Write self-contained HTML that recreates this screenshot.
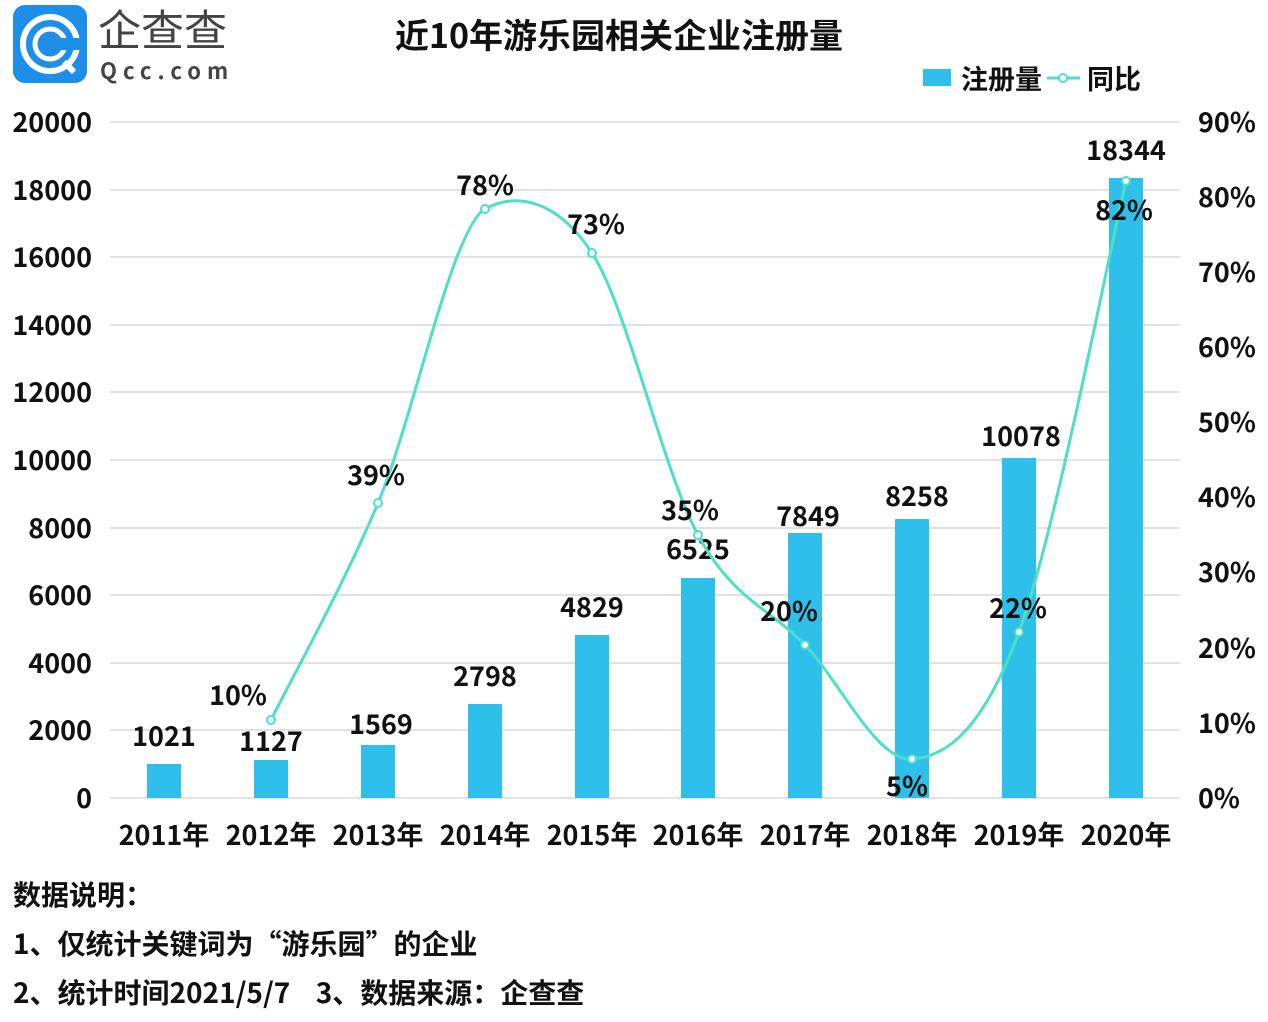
<!DOCTYPE html>
<html><head><meta charset="utf-8"><style>
body{margin:0;background:#fff;}
svg text{font-family:"Noto Sans CJK SC","Liberation Sans",sans-serif;font-weight:bold;fill:#111;white-space:pre;}
</style></head><body>
<svg width="1268" height="1017" viewBox="0 0 1268 1017" xmlns="http://www.w3.org/2000/svg">
<!-- logo -->
<rect x="13" y="5" width="74" height="78" rx="12" fill="#1e8fe8"/>
<circle cx="50" cy="44" r="27" fill="none" stroke="#fff" stroke-width="6"/>
<circle cx="50" cy="44" r="15" fill="none" stroke="#fff" stroke-width="5"/>
<rect x="54" y="38" width="30" height="12" fill="#1e8fe8"/>
<line x1="64" y1="62" x2="74" y2="72" stroke="#fff" stroke-width="6"/>
<text x="98" y="46" font-size="43" style="font-weight:normal;fill:#444">企查查</text>
<text x="100" y="79" font-size="22" letter-spacing="6" style="fill:#444">Qcc.com</text>
<text x="619" y="48" font-size="34" text-anchor="middle">近10年游乐园相关企业注册量</text>
<!-- legend -->
<rect x="923" y="69" width="28" height="17" fill="#2ec0ea"/>
<text x="961" y="89" font-size="27">注册量</text>
<line x1="1047" y1="78" x2="1080" y2="78" stroke="#4de0c4" stroke-width="3"/>
<circle cx="1063" cy="78" r="4" fill="#fff" stroke="#4de0c4" stroke-width="2"/>
<text x="1087" y="89" font-size="27">同比</text>
<!-- grid -->
<g stroke="#d9d9d9" stroke-width="1.5">
<line x1="110" y1="122" x2="1180" y2="122"/><line x1="110" y1="190" x2="1180" y2="190"/>
<line x1="110" y1="257" x2="1180" y2="257"/><line x1="110" y1="325" x2="1180" y2="325"/>
<line x1="110" y1="392" x2="1180" y2="392"/><line x1="110" y1="460" x2="1180" y2="460"/>
<line x1="110" y1="528" x2="1180" y2="528"/><line x1="110" y1="595" x2="1180" y2="595"/>
<line x1="110" y1="663" x2="1180" y2="663"/><line x1="110" y1="730" x2="1180" y2="730"/>
<line x1="110" y1="798" x2="1180" y2="798"/></g>
<g font-size="27" text-anchor="end">
<text x="92" y="132">20000</text><text x="92" y="200">18000</text><text x="92" y="267">16000</text>
<text x="92" y="335">14000</text><text x="92" y="402">12000</text><text x="92" y="470">10000</text>
<text x="92" y="538">8000</text><text x="92" y="605">6000</text><text x="92" y="673">4000</text>
<text x="92" y="740">2000</text><text x="92" y="808">0</text></g>
<g font-size="27" text-anchor="start">
<text x="1198" y="132">90%</text><text x="1198" y="207">80%</text><text x="1198" y="282">70%</text>
<text x="1198" y="357">60%</text><text x="1198" y="432">50%</text><text x="1198" y="507">40%</text>
<text x="1198" y="582">30%</text><text x="1198" y="658">20%</text><text x="1198" y="733">10%</text>
<text x="1198" y="808">0%</text></g>
<!-- bars -->
<g fill="#2ec0ea">
<rect x="147" y="764" width="34" height="34"/><rect x="254" y="760" width="34" height="38"/>
<rect x="361" y="745" width="34" height="53"/><rect x="468" y="704" width="34" height="94"/>
<rect x="575" y="635" width="34" height="163"/><rect x="681" y="578" width="34" height="220"/>
<rect x="788" y="533" width="34" height="265"/><rect x="895" y="519" width="34" height="279"/>
<rect x="1002" y="458" width="34" height="340"/><rect x="1109" y="178" width="34" height="620"/></g>
<g font-size="27" text-anchor="middle">
<text x="164" y="746">1021</text><text x="271" y="751">1127</text><text x="381" y="734">1569</text>
<text x="485" y="686">2798</text><text x="592" y="617">4829</text><text x="698" y="559">6525</text>
<text x="808" y="526">7849</text><text x="917" y="506">8258</text><text x="1021" y="446">10078</text>
<text x="1126" y="160">18344</text></g>
<!-- line -->
<path d="M271,720 C288.8,683.8 342.3,588.2 378,503 C413.7,417.8 452,228 485,209 C515,192 556.5,198.7 592,253 C627.5,307.3 662.5,469.7 698,535 C733.5,600.3 769.3,607.7 805,645 C840.7,682.3 876.3,761.2 912,759 C947.7,756.8 983.3,728.3 1019,632 C1054.7,535.7 1108.2,256.2 1126,181" fill="none" stroke="#4de0c4" stroke-width="3"/>
<g fill="#fff" stroke="#4de0c4" stroke-width="2">
<circle cx="271" cy="720" r="4"/><circle cx="378" cy="503" r="4"/><circle cx="485" cy="209" r="4"/>
<circle cx="592" cy="253" r="4"/><circle cx="698" cy="535" r="4"/><circle cx="805" cy="645" r="4"/>
<circle cx="912" cy="759" r="4"/><circle cx="1019" cy="632" r="4"/><circle cx="1126" cy="181" r="4"/></g>
<g font-size="27" text-anchor="middle">
<text x="238" y="705">10%</text><text x="376" y="485">39%</text><text x="485" y="195">78%</text>
<text x="596" y="234">73%</text><text x="690" y="520">35%</text><text x="789" y="621">20%</text>
<text x="907" y="796">5%</text><text x="1018" y="618">22%</text><text x="1124" y="220">82%</text></g>
<g font-size="27" text-anchor="middle">
<text x="164" y="845">2011年</text><text x="271" y="845">2012年</text><text x="378" y="845">2013年</text>
<text x="485" y="845">2014年</text><text x="592" y="845">2015年</text><text x="698" y="845">2016年</text>
<text x="805" y="845">2017年</text><text x="912" y="845">2018年</text><text x="1019" y="845">2019年</text>
<text x="1126" y="845">2020年</text></g>
<g font-size="28">
<text x="13" y="905">数据说明：</text>
<text x="13" y="954">1、仅统计关键词为“游乐园”的企业</text>
<text x="13" y="1003" xml:space="preserve">2、统计时间2021/5/7    3、数据来源：企查查</text></g>
</svg>
</body></html>
